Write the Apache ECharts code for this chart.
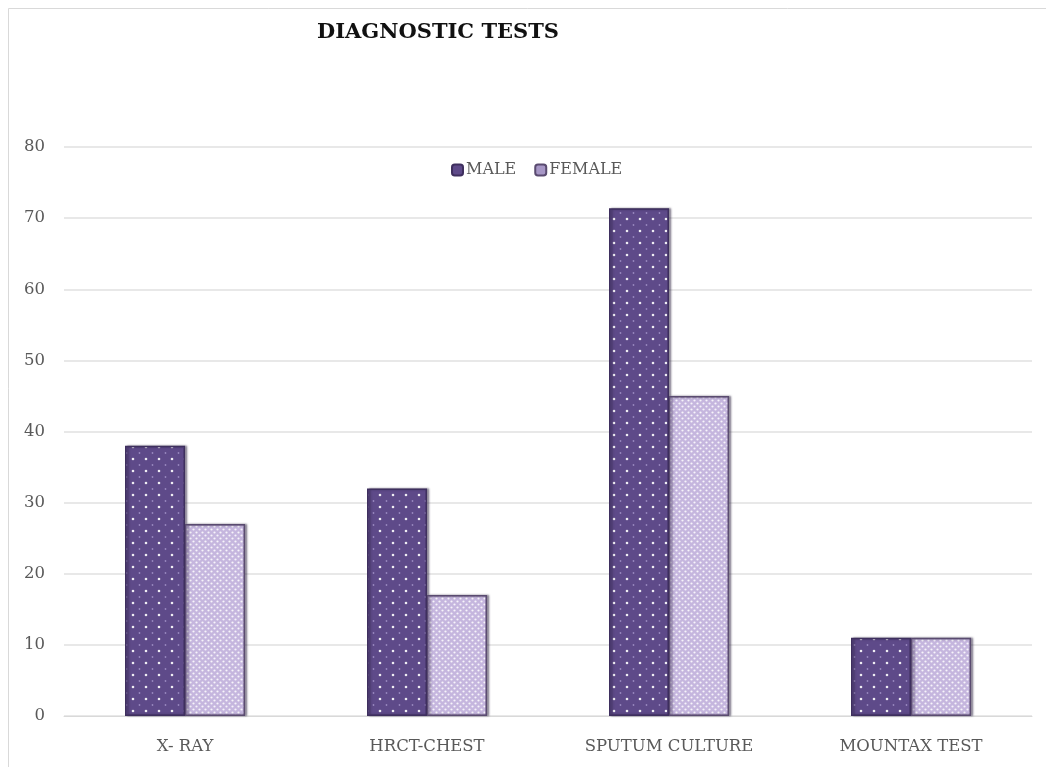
<!DOCTYPE html>
<html>
<head>
<meta charset="utf-8">
<style>
  html, body { margin: 0; padding: 0; background: #ffffff; }
  #chart { width: 1046px; height: 767px; }
</style>
<script src="https://cdn.jsdelivr.net/npm/echarts@6/dist/echarts.min.js"></script>
</head>
<body>
<div id="chart"></div>
<script>
// Diagnostic tests by gender
const categories = ['X- RAY', 'HRCT-CHEST', 'SPUTUM CULTURE', 'MOUNTAX TEST'];
const maleValues = [38, 32, 71.4, 11];
const femaleValues = [27, 17, 45, 11];
const yTicks = [0, 10, 20, 30, 40, 50, 60, 70, 80];

// Dotted fill for the male bars: white dots on dark purple
function malePattern() {
  const c = document.createElement('canvas');
  c.width = 26; c.height = 24;
  const g = c.getContext('2d');
  g.fillStyle = '#5e4a89';
  g.fillRect(0, 0, 26, 24);
  g.fillStyle = 'rgba(255,255,255,0.9)';
  [[3, 3], [16, 3], [3, 15], [16, 15]].forEach(([x, y]) => {
    g.beginPath(); g.arc(x, y, 1.3, 0, Math.PI * 2); g.fill();
  });
  g.fillStyle = 'rgba(200,185,235,0.55)';
  [[9.5, 9], [22.5, 9], [9.5, 21], [22.5, 21]].forEach(([x, y]) => {
    g.beginPath(); g.arc(x, y, 0.9, 0, Math.PI * 2); g.fill();
  });
  return c;
}

// Fine mesh fill for the female bars
function femalePattern() {
  const c = document.createElement('canvas');
  c.width = 6; c.height = 6;
  const g = c.getContext('2d');
  g.fillStyle = '#c5b6de';
  g.fillRect(0, 0, 6, 6);
  g.fillStyle = 'rgba(255,255,255,0.85)';
  [[1.5, 1.5], [4.5, 4.5]].forEach(([x, y]) => {
    g.beginPath(); g.arc(x, y, 1.1, 0, Math.PI * 2); g.fill();
  });
  return c;
}

const serif = '"DejaVu Serif", "Liberation Serif", serif';
const chart = echarts.init(document.getElementById('chart'));

chart.setOption({
  animation: false,
  backgroundColor: '#ffffff',
  title: {
    text: 'DIAGNOSTIC TESTS',
    left: 312,
    top: 17,
    textStyle: { fontFamily: serif, fontWeight: 'bold', fontSize: 21, color: '#111111' }
  },
  graphic: [{
    type: 'rect',
    shape: { x: 8.5, y: 8.5, width: 1040, height: 760 },
    style: { fill: 'none', stroke: '#d9d9d9', lineWidth: 1 },
    silent: true
  }],
  legend: {
    top: 157,
    left: 446,
    itemWidth: 11,
    itemHeight: 11,
    itemGap: 18,
    textStyle: { fontFamily: serif, fontSize: 16, color: '#595959', padding: [0, 0, 0, -2] },
    data: [
      { name: 'MALE', itemStyle: { color: '#5e4a89' } },
      { name: 'FEMALE', itemStyle: { color: '#a797c6' } }
    ]
  },
  grid: { left: 64, right: 14, top: 147, bottom: 51, containLabel: false },
  xAxis: {
    type: 'category',
    data: categories,
    axisLine: { lineStyle: { color: '#d9d9d9', width: 1 } },
    axisTick: { show: false },
    axisLabel: { fontFamily: serif, fontSize: 16.5, color: '#595959', margin: 22 }
  },
  yAxis: {
    type: 'value',
    min: yTicks[0],
    max: yTicks[yTicks.length - 1],
    interval: 10,
    axisLine: { show: false },
    axisTick: { show: false },
    axisLabel: { fontFamily: serif, fontSize: 16.5, color: '#595959', margin: 19 },
    splitLine: { lineStyle: { color: '#e0e0e0', width: 1.5 } }
  },
  series: [
    {
      name: 'MALE',
      type: 'bar',
      data: maleValues,
      barWidth: 60,
      barGap: '0%',
      itemStyle: {
        color: { image: malePattern(), repeat: 'repeat' },
        borderColor: '#3e2f5e',
        borderWidth: 1.5,
        shadowColor: 'rgba(40,30,60,0.5)',
        shadowBlur: 2,
        shadowOffsetX: 2
      }
    },
    {
      name: 'FEMALE',
      type: 'bar',
      data: femaleValues,
      barWidth: 60,
      itemStyle: {
        color: { image: femalePattern(), repeat: 'repeat' },
        borderColor: '#5a4b70',
        borderWidth: 1.5,
        shadowColor: 'rgba(40,30,60,0.5)',
        shadowBlur: 2,
        shadowOffsetX: 2
      }
    }
  ]
});
</script>
</body>
</html>
